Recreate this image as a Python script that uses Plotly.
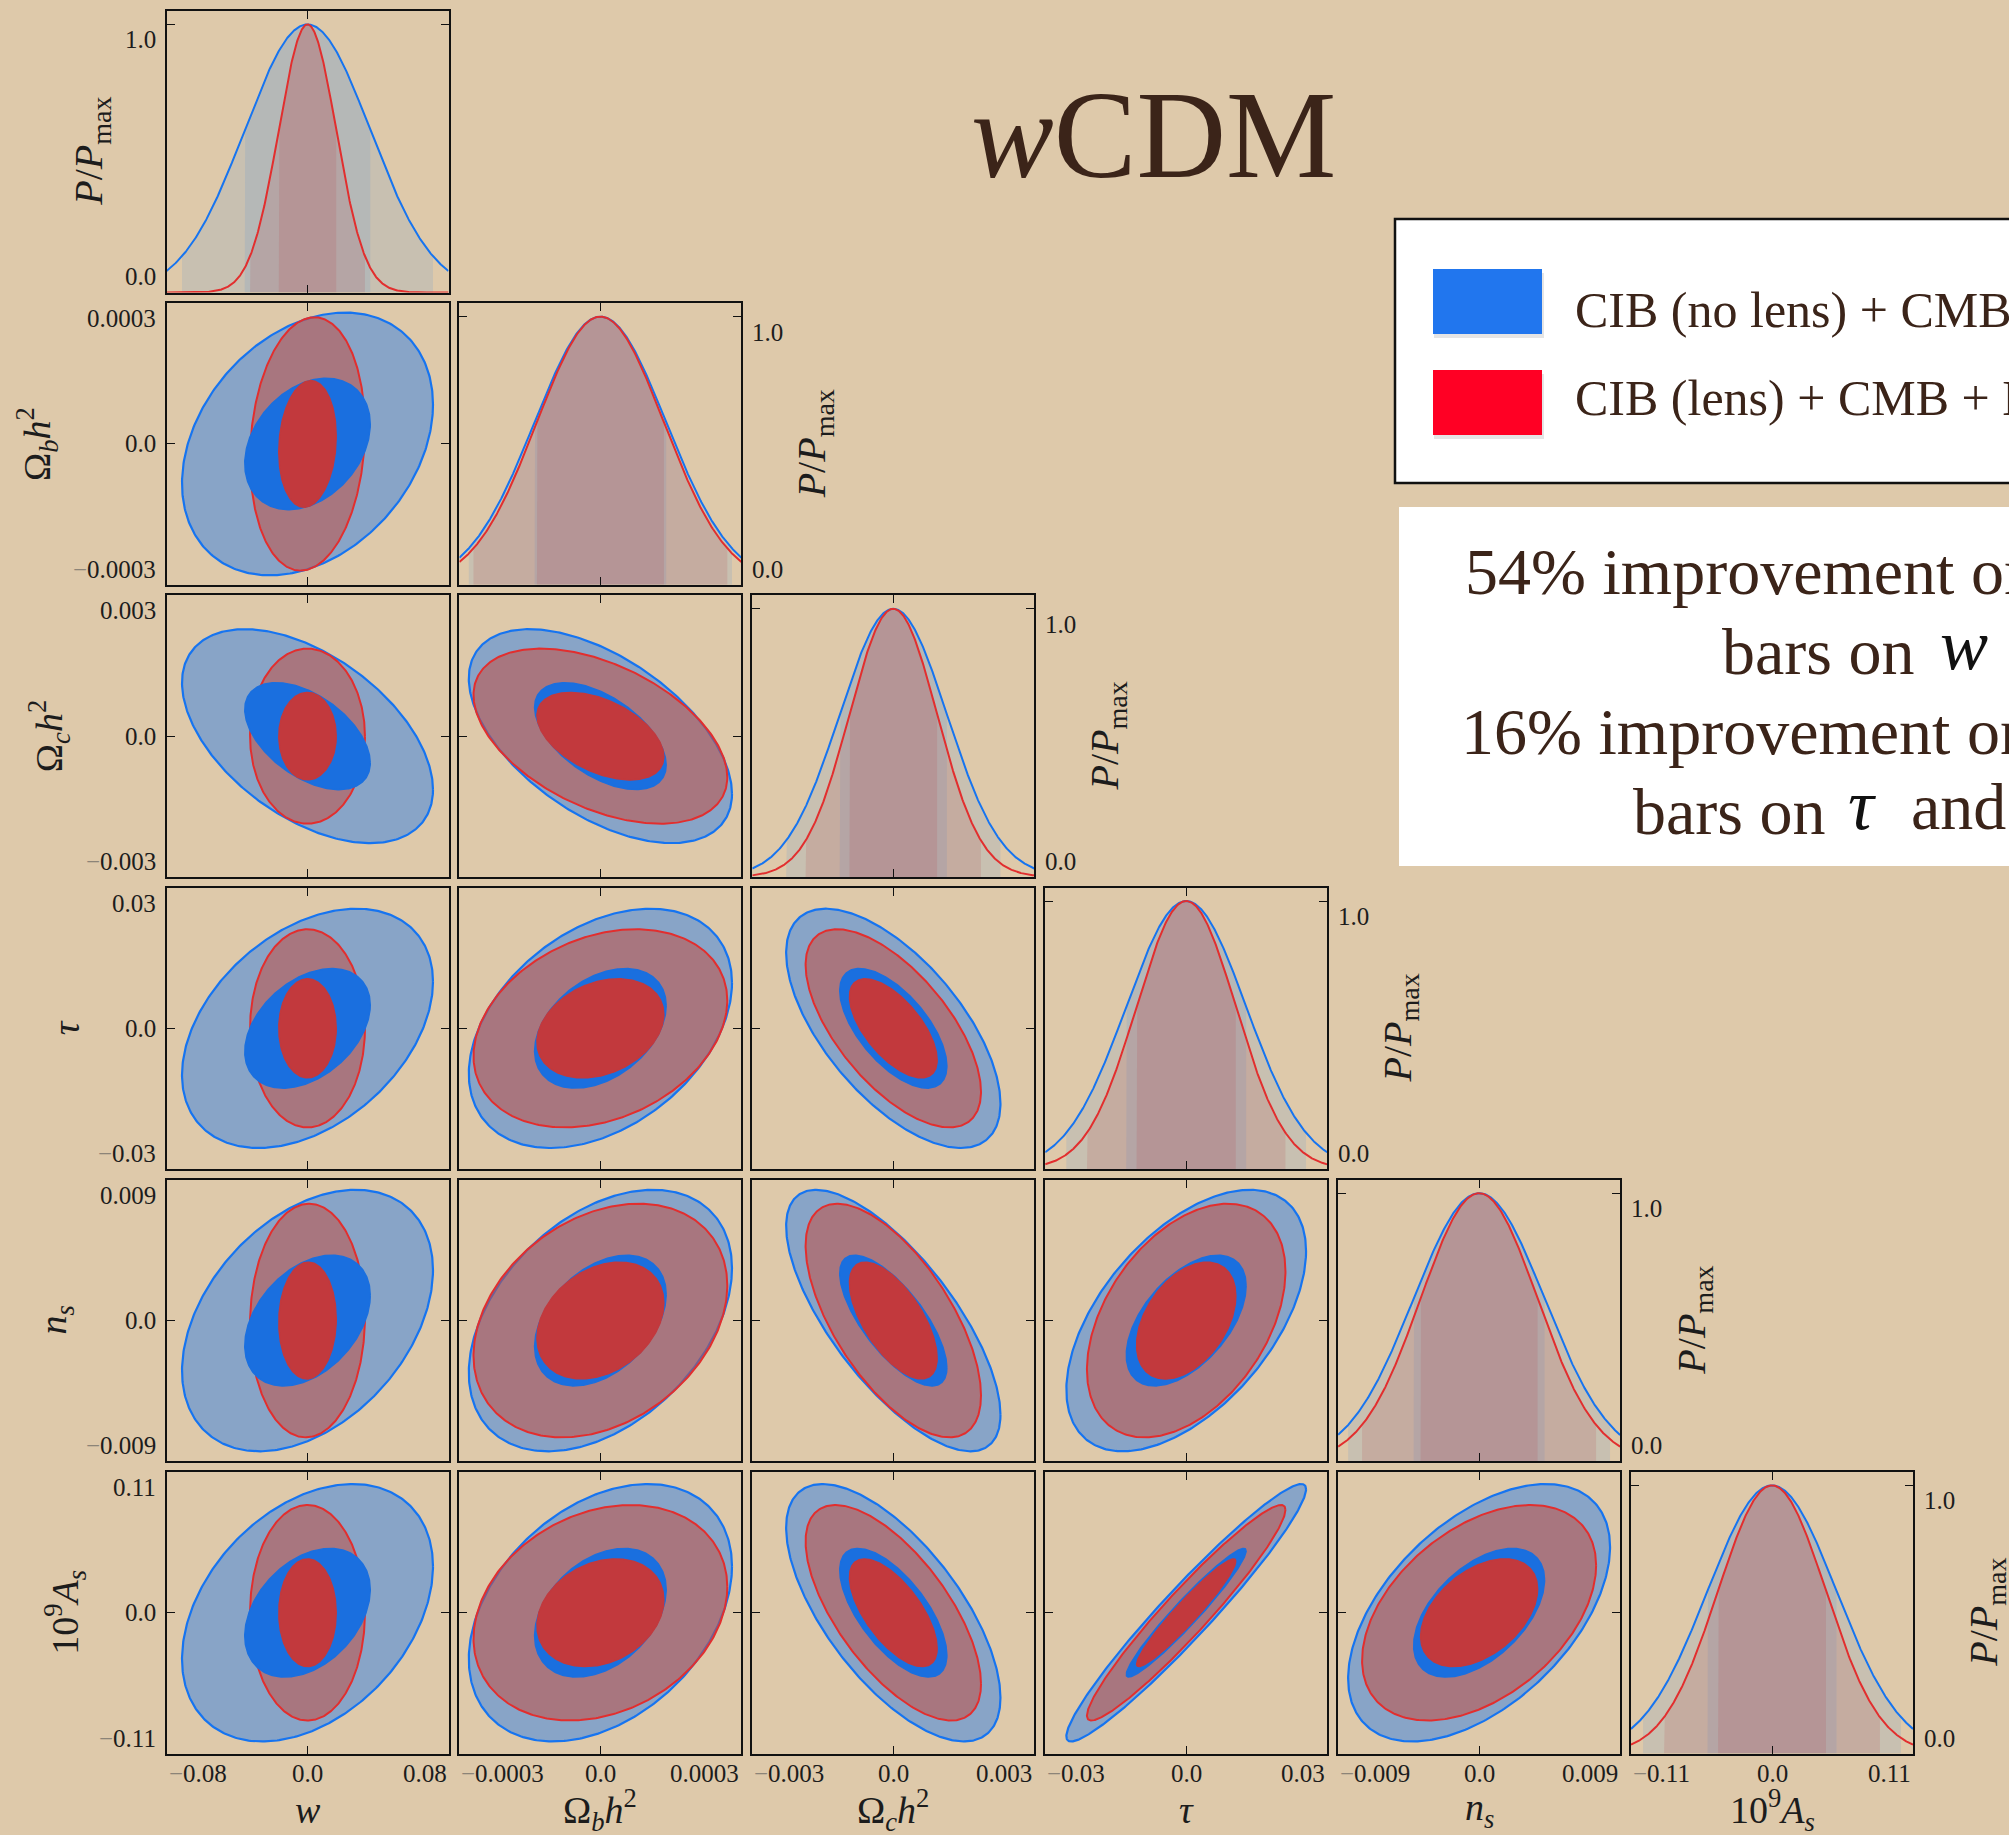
import numpy as np
import plotly.graph_objects as go

# ---------------- data ----------------
param_labels = ["<i>w</i>",
                "Ω<sub><i>b</i></sub><i>h</i><sup>2</sup>",
                "Ω<sub><i>c</i></sub><i>h</i><sup>2</sup>",
                "<i>τ</i>",
                "<i>n</i><sub><i>s</i></sub>",
                "10<sup>9</sup><i>A</i><sub><i>s</i></sub>"]
axis_limits = [0.08, 0.0003, 0.003, 0.03, 0.009, 0.11]
limit_labels = ["0.08", "0.0003", "0.003", "0.03", "0.009", "0.11"]

# 1-sigma marginal errors
sigma_nolens = [0.0356, 0.000140, 0.00114, 0.01275, 0.00418, 0.0503]
sigma_lens = [0.0163, 0.000135, 0.000933, 0.01056, 0.003735, 0.0421]

# correlation coefficients, lower triangle (row i vs column j<i)
rho_nolens = [
    [],
    [0.30],
    [-0.50, -0.54],
    [0.39, 0.38, -0.63],
    [0.385, 0.40, -0.72, 0.53],
    [0.36, 0.36, -0.66, 0.96, 0.51],
]
rho_lens = [
    [],
    [0.12],
    [0.0, -0.47],
    [0.0, 0.28, -0.64],
    [0.03, 0.30, -0.64, 0.42],
    [0.0, 0.24, -0.66, 0.955, 0.44],
]

legend_labels = ["CIB (no lens) + CMB + BAO", "CIB (lens) + CMB + BAO"]
title_text = "<i>w</i>CDM"

# ---------------- style / layout ----------------
W, H = 2009, 1835
FONT = "Liberation Serif"
BG = "#dec9aa"
TXT = "#1c1c1c"
BROWN = "#3b2419"

BLUE_LINE = "rgb(22,116,240)"
BLUE_OUT = "rgba(30,120,235,0.45)"
BLUE_IN = "rgb(26,111,223)"
RED_LINE = "rgb(226,46,46)"
RED_OUT = "rgba(198,76,62,0.52)"
RED_IN = "rgb(194,57,61)"
BLUE_BAND = "rgba(30,120,235,0.11)"
RED_BAND = "rgba(180,60,70,0.15)"

X0, DX, PW = 166.5, 292.9, 282.0
Y0, DY, PH = 11.0, 292.2, 281.5
ylab_x = [91, 37, 49, 66, 56, 65]


def px(x):
    return x / W


def py(y):
    return 1 - y / H


N = len(param_labels)
fig = go.Figure()
layout = {}
annotations = []
axis_id = {}

t = np.linspace(0, 2 * np.pi, 361)


def ellipse(sx, sy, r, k):
    x = k * sx * np.cos(t)
    y = k * sy * (r * np.cos(t) + np.sqrt(1 - r * r) * np.sin(t))
    return x, y


n = 0
for i in range(N):
    for j in range(i + 1):
        n += 1
        axis_id[(i, j)] = n
        left = X0 + j * DX
        top = Y0 + i * DY
        xa = f"x{n}"
        ya = f"y{n}"
        common = dict(showgrid=False, zeroline=False, showline=True, linecolor="#111",
                      linewidth=2, mirror="ticks", ticks="inside", ticklen=8,
                      tickwidth=1.3, tickcolor="#111", showticklabels=False,
                      fixedrange=True)
        Rx = axis_limits[j]
        layout["xaxis" + ("" if n == 1 else str(n))] = dict(
            domain=[px(left), px(left + PW)], range=[-Rx, Rx], anchor=ya,
            tickvals=[0], **common)
        if i == j:
            layout["yaxis" + ("" if n == 1 else str(n))] = dict(
                domain=[py(top + PH), py(top)], range=[0, 1.05], anchor=xa,
                tickvals=[0, 1.0], **common)
            # 1D marginals
            xs_full = np.linspace(-Rx, Rx, 500)
            for s, col in ((sigma_nolens[i], BLUE_BAND), (sigma_lens[i], RED_BAND)):
                for k in (2, 1):
                    xs = np.linspace(-k * s, k * s, 300)
                    ys = np.exp(-xs ** 2 / (2 * s * s))
                    fig.add_trace(go.Scatter(
                        x=np.concatenate([[-k * s], xs, [k * s]]),
                        y=np.concatenate([[0], ys, [0]]),
                        xaxis=xa, yaxis=ya, mode="lines", line=dict(width=0),
                        fill="toself", fillcolor=col, hoverinfo="skip", showlegend=False))
            for s, col in ((sigma_nolens[i], BLUE_LINE), (sigma_lens[i], RED_LINE)):
                fig.add_trace(go.Scatter(
                    x=xs_full, y=np.exp(-xs_full ** 2 / (2 * s * s)),
                    xaxis=xa, yaxis=ya, mode="lines", line=dict(color=col, width=2),
                    hoverinfo="skip", showlegend=False))
        else:
            Ry = axis_limits[i]
            layout["yaxis" + ("" if n == 1 else str(n))] = dict(
                domain=[py(top + PH), py(top)], range=[-Ry, Ry], anchor=xa,
                tickvals=[0], **common)
            sb = (sigma_nolens[j], sigma_nolens[i], rho_nolens[i][j])
            sr = (sigma_lens[j], sigma_lens[i], rho_lens[i][j])
            layers = [
                (sb, 2, BLUE_OUT, BLUE_LINE, 2.2),
                (sr, 2, RED_OUT, RED_LINE, 2.0),
                (sb, 1, BLUE_IN, BLUE_IN, 1.5),
                (sr, 1, RED_IN, RED_IN, 1.5),
            ]
            for (sx, sy, r), k, fc, lc, lw in layers:
                ex, ey = ellipse(sx, sy, r, k)
                fig.add_trace(go.Scatter(
                    x=ex, y=ey, xaxis=xa, yaxis=ya, mode="lines",
                    line=dict(color=lc, width=lw), fill="toself", fillcolor=fc,
                    hoverinfo="skip", showlegend=False))

tick_font = dict(family=FONT, size=25, color=TXT)
label_font = dict(family=FONT, size=38, color=TXT)
MINUS = "<span style='color:#8c8478'>−</span>"

# bottom-row x tick labels and titles
for j in range(N):
    n = axis_id[(N - 1, j)]
    R = axis_limits[j]
    for xv, anc, txt in ((-R, "left", MINUS + limit_labels[j]), (0, "center", "0.0"),
                         (R, "right", limit_labels[j])):
        annotations.append(dict(x=xv, xref=f"x{n}", y=py(1773), yref="paper",
                                xanchor=anc, yanchor="middle", text=txt,
                                showarrow=False, font=tick_font))
    annotations.append(dict(x=0, xref=f"x{n}", y=py(1810), yref="paper",
                            xanchor="center", yanchor="middle", text=param_labels[j],
                            showarrow=False, font=label_font))

# left-column y tick labels and titles
for i in range(1, N):
    n = axis_id[(i, 0)]
    R = axis_limits[i]
    for yv, anc, txt in ((R, "top", limit_labels[i]), (0, "middle", "0.0"),
                         (-R, "bottom", MINUS + limit_labels[i])):
        annotations.append(dict(x=px(158), xref="paper", y=yv, yref=f"y{n}",
                                xanchor="right", yanchor=anc, text=txt,
                                showarrow=False, font=tick_font))
    annotations.append(dict(x=px(ylab_x[i]), xref="paper", y=0, yref=f"y{n}",
                            xanchor="center", yanchor="middle", text=param_labels[i],
                            textangle=-90, showarrow=False, font=label_font))

# 1D panel y labels
PP = "<i>P</i>/<i>P</i><sub>max</sub>"
for i in range(N):
    n = axis_id[(i, i)]
    if i == 0:
        lx, anc, tx = 158, "right", ylab_x[0]
    else:
        right = X0 + i * DX + PW
        lx, anc, tx = right + 9, "left", right + 73
    for yv, va, txt in ((1.0, "top", "1.0"), (0.0, "bottom", "0.0")):
        annotations.append(dict(x=px(lx), xref="paper", y=yv, yref=f"y{n}",
                                xanchor=anc, yanchor=va, text=txt,
                                showarrow=False, font=tick_font))
    annotations.append(dict(x=px(tx), xref="paper", y=0.525, yref=f"y{n}",
                            xanchor="center", yanchor="middle", text=PP,
                            textangle=-90, showarrow=False,
                            font=dict(family=FONT, size=40, color=TXT)))

# title
annotations.append(dict(x=px(1153), y=py(136), xref="paper", yref="paper",
                        xanchor="center", yanchor="middle", text=title_text,
                        showarrow=False, font=dict(family=FONT, size=124, color=BROWN)))

shapes = []
# legend box
shapes.append(dict(type="rect", xref="paper", yref="paper", x0=px(1395), x1=px(2060),
                   y0=py(483), y1=py(219), line=dict(color="#111", width=2.5),
                   fillcolor="white"))
legend_geo = [("rgb(33,118,238)", 301, 310), ("rgb(255,0,36)", 402, 398)]
for k, (col, yc, ty) in enumerate(legend_geo):
    shapes.append(dict(type="rect", xref="paper", yref="paper", x0=px(1434), x1=px(1544),
                       y0=py(yc + 37), y1=py(yc - 28), line=dict(width=0),
                       fillcolor="rgba(0,0,0,0.10)"))
    shapes.append(dict(type="rect", xref="paper", yref="paper", x0=px(1433), x1=px(1542),
                       y0=py(yc + 33), y1=py(yc - 32), line=dict(width=0), fillcolor=col))
    annotations.append(dict(x=px(1573), y=py(ty), xref="paper", yref="paper",
                            xanchor="left", yanchor="middle", text=legend_labels[k],
                            showarrow=False, font=dict(family=FONT, size=50, color=BROWN)))

# improvement text box
shapes.append(dict(type="rect", xref="paper", yref="paper", x0=px(1399), x1=px(2060),
                   y0=py(866), y1=py(507), line=dict(width=0), fillcolor="white"))
BIG = dict(family=FONT, size=66, color=BROWN)
MATH = dict(family=FONT, size=72, color="#111")
text_pieces = [
    (1463, 571, "54% improvement on error", BIG),
    (1720, 651, "bars on", BIG),
    (1938, 645, "<i>w</i>", MATH),
    (1459, 731, "16% improvement on error", BIG),
    (1631, 811, "bars on", BIG),
    (1846, 805, "<i>τ</i>", MATH),
    (1909, 811, "and <i>A</i><sub>s</sub>", BIG),
]
for xl, yc, txt, f in text_pieces:
    annotations.append(dict(x=px(xl), y=py(yc), xref="paper", yref="paper",
                            xanchor="left", yanchor="middle", text=txt,
                            showarrow=False, font=f))

layout.update(dict(width=W, height=H, margin=dict(l=0, r=0, t=0, b=0),
                   paper_bgcolor=BG, plot_bgcolor="rgba(0,0,0,0)",
                   showlegend=False, annotations=annotations, shapes=shapes,
                   font=dict(family=FONT, color=TXT)))
fig.update_layout(**layout)
fig.write_html("out.html")
